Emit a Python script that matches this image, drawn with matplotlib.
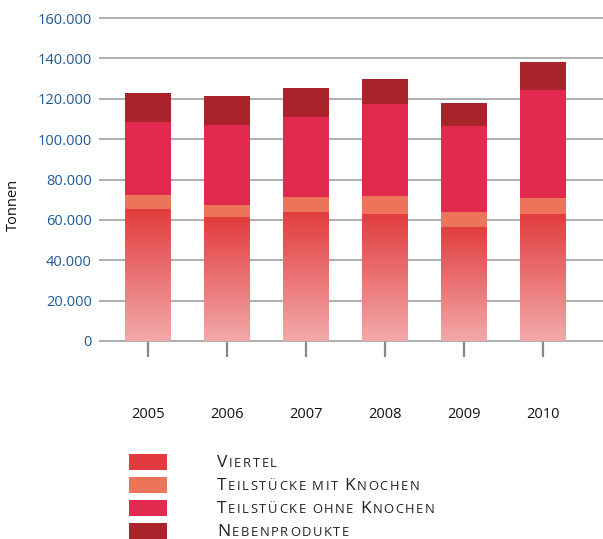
import numpy as np
import matplotlib
matplotlib.use("Agg")
import matplotlib.pyplot as plt
from matplotlib.colors import LinearSegmentedColormap
from matplotlib.ticker import FuncFormatter

W, H = 603, 539

years = ["2005", "2006", "2007", "2008", "2009", "2010"]
viertel = [65600, 61200, 64100, 63100, 56700, 63100]
teil_mit = [6500, 6400, 7400, 8500, 7400, 7500]
teil_ohne = [36200, 39200, 39700, 45600, 42200, 53500]
neben = [14400, 14400, 13900, 12400, 11400, 13900]

labels = ["Viertel", "Teilstücke mit Knochen", "Teilstücke ohne Knochen", "Nebenprodukte"]
colors = ["#e23a3e", "#ec7458", "#e22a50", "#a9232b"]
grad_top, grad_bottom = "#e23c3e", "#f2a9a9"

plt.rcParams["font.family"] = ["Open Sans", "DejaVu Sans"]

fig = plt.figure(figsize=(W / 100, H / 100), dpi=100)
ax = fig.add_axes([100 / W, 1 - 341 / H, 1 - 100 / W, 323 / H])

x = np.arange(len(years))
bw = 0.58
vals = [viertel, teil_mit, teil_ohne, neben]
bottom = np.zeros(len(years))
cmap = LinearSegmentedColormap.from_list("v", [grad_bottom, grad_top])
grad = np.linspace(0, 1, 256).reshape(-1, 1)
for i, (v, c) in enumerate(zip(vals, colors)):
    bars = ax.bar(x, v, bw, bottom=bottom, color=c, zorder=3, linewidth=0)
    if i == 0:
        # Viertel gets a vertical gradient
        for b in bars:
            b.set_facecolor("none")
            im = ax.imshow(grad, cmap=cmap, origin="lower", aspect="auto", zorder=3,
                           extent=[b.get_x(), b.get_x() + b.get_width(), 0, b.get_height()])
            im.set_clip_path(b)
    bottom += np.array(v)

ax.set_xlim(-0.61, 5.76)
ax.set_ylim(0, 160000)
ax.set_yticks(np.arange(0, 160001, 20000))
ax.yaxis.set_major_formatter(FuncFormatter(lambda v, p: f"{int(v):,}".replace(",", ".")))
ax.grid(axis="y", color="#a8a8a8", linewidth=1.3, zorder=0)
for gl in ax.get_ygridlines():
    gl.set_clip_on(False)
ax.set_xticks(x)
ax.set_xticklabels(years, fontsize=10.5, color="#111")
ax.tick_params(axis="x", length=11.5, width=1.6, color="#888", pad=36)
ax.tick_params(axis="y", length=0, pad=6, labelsize=10.5, labelcolor="#1d5a9c")
for s in ax.spines.values():
    s.set_visible(False)
ax.set_ylabel("Tonnen", fontsize=10.5, color="#111")
ax.yaxis.set_label_coords(-79 / (W - 100), 0.42)

# legend with small caps text
renderer = fig.canvas.get_renderer()


def smallcaps(x0, y0, text, big=12.5, small=9.4, track=1.6):
    cx = x0
    for ch in text:
        if ch == " ":
            cx += 5
            continue
        if ch.isupper() or not ch.isalpha():
            t = fig.text(cx / W, 1 - y0 / H, ch, fontsize=big, color="#222", va="baseline")
        else:
            t = fig.text(cx / W, 1 - y0 / H, ch.upper(), fontsize=small, color="#222", va="baseline")
        cx += t.get_window_extent(renderer).width + track


for k, (lab, c) in enumerate(zip(labels, colors)):
    ytop = 454 + 23 * k
    fig.patches.append(plt.Rectangle((129 / W, 1 - (ytop + 16) / H), 38 / W, 16 / H,
                                     transform=fig.transFigure, facecolor=c, edgecolor="none"))
    smallcaps(217, 467 + 23 * k, lab)

fig.savefig("out.png", dpi=100)
